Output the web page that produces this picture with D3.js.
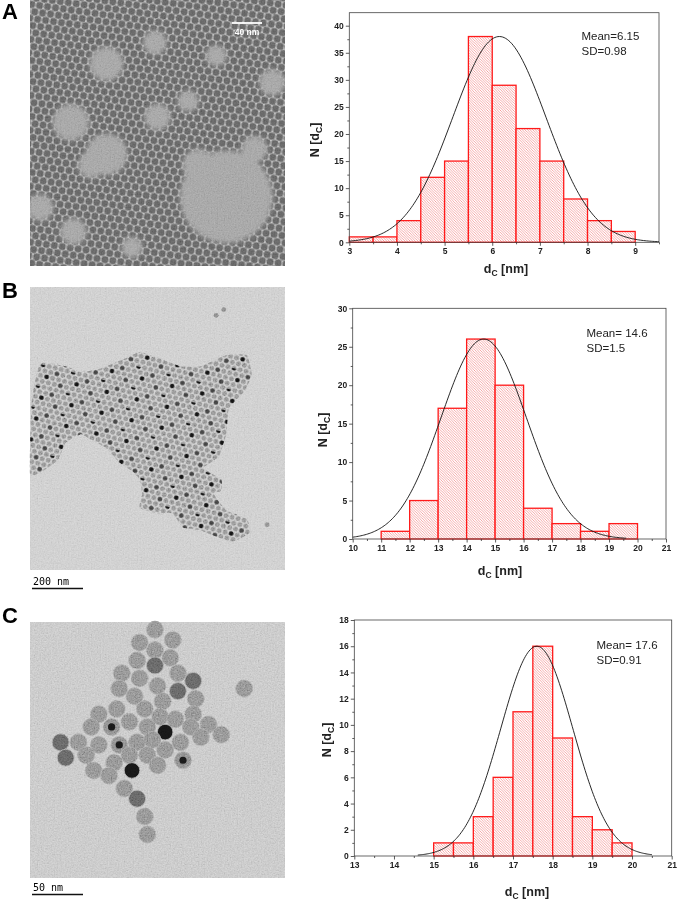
<!DOCTYPE html>
<html>
<head>
<meta charset="utf-8">
<script src="https://cdn.jsdelivr.net/npm/d3@7"></script>
<style>
  body { margin: 0; background: #fff; }
  svg { display: block; font-family: "Liberation Sans", Arial, sans-serif; }
</style>
</head>
<body>
<svg id="fig" width="678" height="900"></svg>
<script>
// ---- histogram data ----
var edgesA = [3, 3.5, 4, 4.5, 5, 5.5, 6, 6.5, 7, 7.5, 8, 8.5, 9];
var countsA = [1, 1, 4, 12, 15, 38, 29, 21, 15, 8, 4, 2];
var xTicksA = [3, 4, 5, 6, 7, 8, 9];
var yTicksA = [0, 5, 10, 15, 20, 25, 30, 35, 40];
var statsA = ["Mean=6.15", "SD=0.98"];
var fitA = {mean: 6.15, sd: 0.98, peak: 38, from: 3, to: 9.5};

var edgesB = [11, 12, 13, 14, 15, 16, 17, 18, 19, 20];
var countsB = [1, 5, 17, 26, 20, 4, 2, 1, 2];
var xTicksB = [10, 11, 12, 13, 14, 15, 16, 17, 18, 19, 20, 21];
var yTicksB = [0, 5, 10, 15, 20, 25, 30];
var statsB = ["Mean= 14.6", "SD=1.5"];
var fitB = {mean: 14.6, sd: 1.5, peak: 26, from: 10, to: 19.6};

var edgesC = [15, 15.5, 16, 16.5, 17, 17.5, 18, 18.5, 19, 19.5, 20];
var countsC = [1, 1, 3, 6, 11, 16, 9, 3, 2, 1];
var xTicksC = [13, 14, 15, 16, 17, 18, 19, 20, 21];
var yTicksC = [0, 2, 4, 6, 8, 10, 12, 14, 16, 18];
var statsC = ["Mean= 17.6", "SD=0.91"];
var fitC = {mean: 17.6, sd: 0.91, peak: 16, from: 14.6, to: 20.5};

// ---- TEM micrograph sketches (positions as fractions of the image) ----
// lighter, particle-free patches in image A: [x, y, r]
var blobsA = [[0.30, 0.24, 0.065], [0.16, 0.46, 0.07], [0.30, 0.58, 0.08], [0.77, 0.74, 0.18],
              [0.50, 0.44, 0.05], [0.49, 0.16, 0.045], [0.04, 0.78, 0.05], [0.62, 0.38, 0.04],
              [0.17, 0.87, 0.05], [0.95, 0.31, 0.05], [0.73, 0.21, 0.04], [0.40, 0.93, 0.04],
              [0.66, 0.62, 0.06], [0.88, 0.56, 0.05], [0.24, 0.62, 0.05]];
// outline of the particle cluster in image B
var clusterB = [[0.007, 0.40], [0.04, 0.27], [0.14, 0.28], [0.20, 0.30], [0.27, 0.29], [0.38, 0.25],
                [0.43, 0.23], [0.50, 0.25], [0.59, 0.28], [0.67, 0.28], [0.77, 0.24], [0.85, 0.24],
                [0.87, 0.31], [0.84, 0.37], [0.78, 0.43], [0.77, 0.52], [0.74, 0.60], [0.68, 0.64],
                [0.75, 0.68], [0.75, 0.72], [0.72, 0.73], [0.77, 0.79], [0.85, 0.82], [0.86, 0.87],
                [0.79, 0.90], [0.67, 0.86], [0.60, 0.85], [0.56, 0.80], [0.50, 0.80], [0.43, 0.78],
                [0.44, 0.73], [0.43, 0.68], [0.40, 0.65], [0.35, 0.62], [0.30, 0.57], [0.24, 0.54],
                [0.20, 0.52], [0.14, 0.55], [0.11, 0.61], [0.05, 0.65], [0.0, 0.66]];
var loneB = [[0.73, 0.10], [0.76, 0.08], [0.93, 0.84]];
// particles in image C: [x, y, tone] tone 0 grey, 1 dark, 2 black, 3 dark core
var particlesC = [[0.49, 0.03, 0], [0.43, 0.08, 0], [0.56, 0.07, 0], [0.49, 0.11, 0], [0.42, 0.15, 0],
                  [0.49, 0.17, 1], [0.55, 0.14, 0], [0.36, 0.20, 0], [0.43, 0.22, 0], [0.50, 0.25, 0],
                  [0.58, 0.20, 0], [0.64, 0.23, 1], [0.35, 0.26, 0], [0.41, 0.29, 0], [0.52, 0.31, 0],
                  [0.58, 0.27, 1], [0.65, 0.30, 0], [0.84, 0.26, 0], [0.27, 0.36, 0], [0.34, 0.34, 0],
                  [0.45, 0.34, 0], [0.51, 0.37, 0], [0.57, 0.38, 0], [0.64, 0.36, 0], [0.70, 0.40, 0],
                  [0.75, 0.44, 0], [0.24, 0.41, 0], [0.32, 0.41, 3], [0.39, 0.39, 0], [0.46, 0.41, 0],
                  [0.63, 0.41, 0], [0.67, 0.45, 0], [0.53, 0.43, 2], [0.12, 0.47, 1], [0.19, 0.47, 0],
                  [0.27, 0.48, 0], [0.35, 0.48, 3], [0.42, 0.47, 0], [0.48, 0.46, 0], [0.59, 0.47, 0],
                  [0.14, 0.53, 1], [0.22, 0.52, 0], [0.33, 0.55, 0], [0.39, 0.52, 0], [0.46, 0.52, 0],
                  [0.53, 0.50, 0], [0.60, 0.54, 3], [0.25, 0.58, 0], [0.31, 0.60, 0], [0.40, 0.58, 2],
                  [0.50, 0.56, 0], [0.37, 0.65, 0], [0.42, 0.69, 1], [0.45, 0.76, 0], [0.46, 0.83, 0]];

var svg = d3.select("#fig");
var defs = svg.append("defs");

// hatch used by the histogram bars
var hatch = defs.append("pattern").attr("id", "hatch")
  .attr("patternUnits", "userSpaceOnUse").attr("width", 2.6).attr("height", 2.6);
hatch.append("rect").attr("width", 2.6).attr("height", 2.6).attr("fill", "#fff");
hatch.append("path").attr("d", "M-1,-1L3.6,3.6M-1,1.6L1,3.6M1.6,-1L3.6,1")
  .attr("stroke", "#f28c8c").attr("stroke-width", 0.75);

// film grain for the micrographs
var grain = defs.append("filter").attr("id", "grain").attr("x", 0).attr("y", 0).attr("width", 1).attr("height", 1);
grain.append("feTurbulence").attr("type", "fractalNoise").attr("baseFrequency", 0.7).attr("numOctaves", 2).attr("seed", 3);
grain.append("feColorMatrix").attr("type", "matrix")
  .attr("values", "0.6 0.6 0 0 -0.1  0.6 0.6 0 0 -0.1  0.6 0.6 0 0 -0.1  0 0 0 0 1");

var soft = defs.append("filter").attr("id", "soft").attr("x", -0.3).attr("y", -0.3).attr("width", 1.6).attr("height", 1.6);
soft.append("feGaussianBlur").attr("stdDeviation", 2.5);

// hexagonal particle packing patterns
function hexPattern(id, d, r, fill, bg, rot) {
  var h = d * Math.sqrt(3);
  var p = defs.append("pattern").attr("id", id).attr("patternUnits", "userSpaceOnUse")
    .attr("width", d).attr("height", h).attr("patternTransform", "rotate(" + rot + ")");
  if (bg) p.append("rect").attr("width", d).attr("height", h).attr("fill", bg);
  [[0, 0], [d, 0], [d / 2, h / 2], [0, h], [d, h]].forEach(function(c) {
    p.append("circle").attr("cx", c[0]).attr("cy", c[1]).attr("r", r).attr("fill", fill);
  });
}
hexPattern("packA", 8, 3.6, "#5e5e5e", "#bdbdbd", 8);
hexPattern("packB", 6.2, 2.45, "#828282", null, 14);

// a sparse sprinkling of black particles sitting on the B lattice
var bd = 6.2, bh = 6.2 * Math.sqrt(3) / 2;
var darkB = defs.append("pattern").attr("id", "darkB").attr("patternUnits", "userSpaceOnUse")
  .attr("width", bd * 5).attr("height", bh * 4).attr("patternTransform", "rotate(14)");
[[1, 0, 0], [3.5, 1, 1], [2, 2, 0], [4.5, 3, 1]].forEach(function(c) {
  darkB.append("circle").attr("cx", c[0] * bd).attr("cy", c[1] * bh).attr("r", 2.3)
    .attr("fill", c[2] ? "#3a3a3a" : "#111");
});

function panelLetter(txt, y) {
  svg.append("text").attr("x", 2).attr("y", y).attr("font-size", 22).attr("font-weight", "bold")
    .text(txt);
}

function temFrame(y0, y1) {
  return {
    x: d3.scaleLinear().domain([0, 1]).range([30, 285]),
    y: d3.scaleLinear().domain([0, 1]).range([y0, y1])
  };
}

function grainLayer(g, s, op) {
  g.append("rect").attr("x", 30).attr("y", s.y(0)).attr("width", 255).attr("height", s.y(1) - s.y(0))
    .attr("filter", "url(#grain)").attr("opacity", op).style("mix-blend-mode", "overlay");
}

// ---- image A ----
(function() {
  var s = temFrame(0, 266);
  var g = svg.append("g");
  g.append("rect").attr("x", 30).attr("y", 0).attr("width", 255).attr("height", 266).attr("fill", "url(#packA)");
  var clip = defs.append("clipPath").attr("id", "clipA");
  clip.append("rect").attr("x", 30).attr("y", 0).attr("width", 255).attr("height", 266);
  g.append("g").attr("clip-path", "url(#clipA)").append("g").attr("filter", "url(#soft)")
    .selectAll(".blob").data(blobsA).enter().append("circle")
    .attr("cx", function(d) { return s.x(d[0]); })
    .attr("cy", function(d) { return s.y(d[1]); })
    .attr("r", function(d) { return s.x(d[2]) - s.x(0); })
    .attr("fill", "#9c9c9c");
  grainLayer(g, s, 0.3);
  g.append("line").attr("x1", 232).attr("x2", 262).attr("y1", 23).attr("y2", 23)
    .attr("stroke", "#fff").attr("stroke-width", 1.8);
  g.append("text").attr("x", 247).attr("y", 35).attr("text-anchor", "middle")
    .attr("font-size", 8.5).attr("font-weight", "bold").attr("fill", "#fff").text("40 nm");
  panelLetter("A", 19);
})();

// ---- image B ----
(function() {
  var s = temFrame(287, 570);
  var g = svg.append("g");
  g.append("rect").attr("x", 30).attr("y", 287).attr("width", 255).attr("height", 283).attr("fill", "#c6c6c6");
  var outline = d3.line().x(function(d) { return s.x(d[0]); }).y(function(d) { return s.y(d[1]); })
    .curve(d3.curveCardinalClosed.tension(0.6));
  g.append("path").attr("d", outline(clusterB)).attr("fill", "url(#packB)");
  g.append("path").attr("d", outline(clusterB)).attr("fill", "url(#darkB)");
  g.selectAll(".lone").data(loneB).enter().append("circle")
    .attr("cx", function(d) { return s.x(d[0]); })
    .attr("cy", function(d) { return s.y(d[1]); })
    .attr("r", 2.4).attr("fill", "#7b7b7b");
  grainLayer(g, s, 0.45);
  g.append("text").attr("x", 33).attr("y", 585).attr("font-size", 10)
    .attr("font-family", "DejaVu Sans Mono, monospace").text("200 nm");
  g.append("line").attr("x1", 32).attr("x2", 83).attr("y1", 588.5).attr("y2", 588.5)
    .attr("stroke", "#111").attr("stroke-width", 1.3);
  panelLetter("B", 298);
})();

// ---- image C ----
(function() {
  var s = temFrame(622, 878);
  var g = svg.append("g");
  var tones = ["#7e7e7e", "#585858", "#141414", "#7a7a7a"];
  g.append("rect").attr("x", 30).attr("y", 622).attr("width", 255).attr("height", 256).attr("fill", "#bebebe");
  var p = g.selectAll(".np").data(particlesC).enter();
  p.append("circle")
    .attr("cx", function(d) { return s.x(d[0]); })
    .attr("cy", function(d) { return s.y(d[1]); })
    .attr("r", function(d) { return d[2] === 2 ? 7.8 : 8.5; })
    .attr("fill", function(d) { return tones[d[2]]; })
    .attr("stroke", "#9a9a9a").attr("stroke-width", 0.8);
  p.filter(function(d) { return d[2] === 3; }).append("circle")
    .attr("cx", function(d) { return s.x(d[0]); })
    .attr("cy", function(d) { return s.y(d[1]); })
    .attr("r", 3.6).attr("fill", "#161616");
  grainLayer(g, s, 0.5);
  g.append("text").attr("x", 33).attr("y", 891).attr("font-size", 10)
    .attr("font-family", "DejaVu Sans Mono, monospace").text("50 nm");
  g.append("line").attr("x1", 32).attr("x2", 83).attr("y1", 894.5).attr("y2", 894.5)
    .attr("stroke", "#111").attr("stroke-width", 1.3);
  panelLetter("C", 623);
})();

// ---- histograms ----
function drawHist(cfg) {
  var x = d3.scaleLinear().domain(cfg.xDomain).range([cfg.left, cfg.right]);
  var y = d3.scaleLinear().domain(cfg.yDomain).range([cfg.bottom, cfg.top]);
  var g = svg.append("g");

  var bins = cfg.counts.map(function(c, i) { return {x0: cfg.edges[i], x1: cfg.edges[i + 1], n: c}; });
  g.selectAll(".bar").data(bins).enter().append("rect")
    .attr("x", function(d) { return x(d.x0); })
    .attr("y", function(d) { return y(d.n); })
    .attr("width", function(d) { return x(d.x1) - x(d.x0); })
    .attr("height", function(d) { return y(0) - y(d.n); })
    .attr("fill", "url(#hatch)")
    .attr("stroke", "#ff1a1a").attr("stroke-width", 1.3);

  var f = cfg.fit;
  var pts = d3.range(f.from, f.to + 1e-9, (f.to - f.from) / 200).map(function(v) {
    return [v, f.peak * Math.exp(-Math.pow(v - f.mean, 2) / (2 * f.sd * f.sd))];
  });
  g.append("path").datum(pts)
    .attr("fill", "none").attr("stroke", "#111").attr("stroke-width", 0.9)
    .attr("d", d3.line().x(function(d) { return x(d[0]); }).y(function(d) { return y(d[1]); }));

  g.append("rect").attr("x", cfg.left).attr("y", cfg.top)
    .attr("width", cfg.right - cfg.left).attr("height", cfg.bottom - cfg.top)
    .attr("fill", "none").attr("stroke", "#444").attr("stroke-width", 0.8);

  function minors(ticks) {
    var m = [];
    for (var i = 0; i < ticks.length - 1; i++) m.push((ticks[i] + ticks[i + 1]) / 2);
    if (cfg.xDomain[1] > ticks[ticks.length - 1]) m.push(ticks[ticks.length - 1] + (ticks[1] - ticks[0]) / 2);
    return m;
  }

  var xa = g.append("g").attr("transform", "translate(0," + cfg.bottom + ")");
  xa.call(d3.axisBottom(x).tickValues(cfg.xTicks).tickSize(3.5).tickPadding(2).tickFormat(d3.format("d")));
  xa.append("g").call(d3.axisBottom(x).tickValues(minors(cfg.xTicks).filter(function(v) { return v <= cfg.xDomain[1]; }))
    .tickSize(2).tickFormat(""));
  var ya = g.append("g").attr("transform", "translate(" + cfg.left + ",0)");
  ya.call(d3.axisLeft(y).tickValues(cfg.yTicks).tickSize(3.5).tickPadding(2).tickFormat(d3.format("d")));
  ya.append("g").call(d3.axisLeft(y).tickValues(minors(cfg.yTicks).filter(function(v) { return v <= cfg.yDomain[1]; }))
    .tickSize(2).tickFormat(""));
  g.selectAll(".domain").remove();
  g.selectAll(".tick line").attr("stroke", "#333").attr("stroke-width", 0.8);
  g.selectAll(".tick text").attr("font-size", 8.5).attr("font-weight", "bold")
    .attr("fill", "#222").attr("font-family", "Liberation Sans, Arial, sans-serif");

  // stats
  g.selectAll(".stat").data(cfg.stats).enter().append("text")
    .attr("x", cfg.statX).attr("y", function(d, i) { return cfg.statY + i * 15; })
    .attr("font-size", 11.5).attr("fill", "#222").text(function(d) { return d; });

  // x label: d_C [nm]
  var xl = g.append("text").attr("x", cfg.xLabel[0]).attr("y", cfg.xLabel[1])
    .attr("text-anchor", "middle").attr("font-size", 12.5).attr("font-weight", "bold").attr("fill", "#222");
  xl.append("tspan").text("d");
  xl.append("tspan").attr("font-size", 8.5).attr("dy", 3).text("C");
  xl.append("tspan").attr("dy", -3).text(" [nm]");

  // y label: N [d_C]
  var yl = g.append("text")
    .attr("transform", "translate(" + cfg.yLabel[0] + "," + cfg.yLabel[1] + ") rotate(-90)")
    .attr("text-anchor", "middle").attr("font-size", 12.5).attr("font-weight", "bold").attr("fill", "#222");
  yl.append("tspan").text("N [d");
  yl.append("tspan").attr("font-size", 8.5).attr("dy", 3).text("C");
  yl.append("tspan").attr("dy", -3).text("]");
}

drawHist({edges: edgesA, counts: countsA, xTicks: xTicksA, yTicks: yTicksA, stats: statsA, fit: fitA,
  xDomain: [3, 9.5], yDomain: [0, 42.4], left: 349.3, right: 659, top: 12.7, bottom: 242.3,
  statX: 581.5, statY: 40, xLabel: [506, 273], yLabel: [319, 140]});
drawHist({edges: edgesB, counts: countsB, xTicks: xTicksB, yTicks: yTicksB, stats: statsB, fit: fitB,
  xDomain: [10, 21], yDomain: [0, 30], left: 352.7, right: 666, top: 308.3, bottom: 539,
  statX: 586.5, statY: 337, xLabel: [500, 575], yLabel: [327, 430]});
drawHist({edges: edgesC, counts: countsC, xTicks: xTicksC, yTicks: yTicksC, stats: statsC, fit: fitC,
  xDomain: [13, 21], yDomain: [0, 18], left: 354.3, right: 671.7, top: 620, bottom: 856,
  statX: 596.5, statY: 649, xLabel: [527, 896], yLabel: [331, 740]});
</script>
</body>
</html>
